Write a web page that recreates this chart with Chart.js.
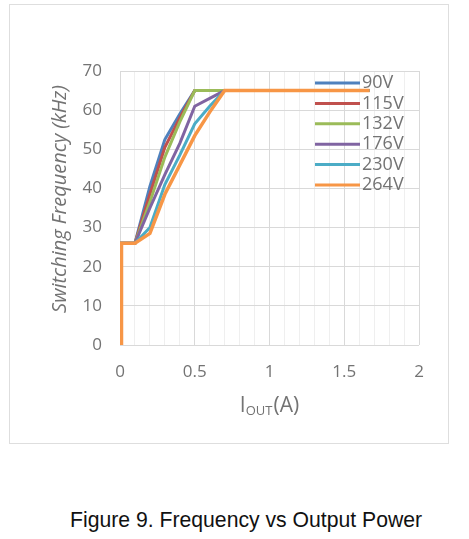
<!DOCTYPE html>
<html>
<head>
<meta charset="utf-8">
<script src="https://cdn.jsdelivr.net/npm/chart.js@4.4.1/dist/chart.umd.min.js"></script>
<style>
    body { margin: 0; background: #fff; }
    #frame { position: absolute; left: 9px; top: 4px; width: 438px; height: 438px; border: 1px solid #dedede; }
    #freqChart { position: absolute; left: 0; top: 0; }
    #caption { position: absolute; left: 70px; top: 508px; font: 21.2px "Liberation Sans", Arial, sans-serif; line-height: 24px; color: #111; white-space: nowrap; }
</style>
</head>
<body>
<div id="frame"><canvas id="freqChart" width="438" height="438"></canvas></div>
<div id="caption">Figure 9. Frequency vs Output Power</div>
<script>
// Output current points (A), shared by every input voltage
const ioutA = [0.01, 0.01, 0.1, 0.2, 0.3, 0.4, 0.5, 0.6, 0.7, 1.67];

// Switching frequency (kHz) per input voltage
const f90V  = [0, 26, 26, 40.5, 52.5, 59, 65, 65, 65, 65];
const f115V = [0, 26, 26, 38.5, 50.5, 58, 65, 65, 65, 65];
const f132V = [0, 26, 26, 36.5, 48, 57, 65, 65, 65, 65];
const f176V = [0, 26, 26, 35, 43.5, 51.5, 61, 63, 65, 65];
const f230V = [0, 26, 26, 30, 41, 48.5, 56.5, 61, 65, 65];
const f264V = [0, 26, 26, 28.5, 38.5, 46, 53.5, 59.5, 65, 65];

const seriesNames = ['90V', '115V', '132V', '176V', '230V', '264V'];
const seriesValues = [f90V, f115V, f132V, f176V, f230V, f264V];
const seriesColors = ['#4F81BD', '#C0504D', '#9BBB59', '#8064A2', '#4BACC6', '#F79646'];

const xTickLabels = ['0', '0.5', '1', '1.5', '2'];
const yTickStep = 10;
const yTitle = 'Switching Frequency (kHz)';

const gray = '#737373';

// legend drawn inside the plot, top right
const insideLegend = {
    id: 'insideLegend',
    afterDatasetsDraw(chart) {
        const ctx = chart.ctx;
        const area = chart.chartArea;
        ctx.save();
        ctx.font = '18px "Open Sans"';
        ctx.textBaseline = 'middle';
        ctx.fillStyle = gray;
        seriesNames.forEach((name, i) => {
            const y = area.top + 12 + i * 20.4;
            ctx.strokeStyle = seriesColors[i];
            ctx.lineWidth = 3;
            ctx.beginPath();
            ctx.moveTo(area.right - 104, y);
            ctx.lineTo(area.right - 59, y);
            ctx.stroke();
            ctx.fillText(name, area.right - 57, y);
        });
        ctx.restore();
    }
};

// axis titles: I_OUT(A) needs a subscript, y title sits a bit above centre
const axisTitles = {
    id: 'axisTitles',
    afterDraw(chart) {
        const ctx = chart.ctx;
        const area = chart.chartArea;
        const big = '21px "Open Sans"';
        const small = '13px "Open Sans"';
        ctx.save();
        ctx.fillStyle = gray;
        ctx.textBaseline = 'alphabetic';
        ctx.font = big;
        const wI = ctx.measureText('I').width;
        const wA = ctx.measureText('(A)').width;
        ctx.font = small;
        const wOut = ctx.measureText('OUT').width;
        let x = (area.left + area.right) / 2 - (wI + wOut + wA + 1) / 2;
        const y = area.bottom + 67;
        ctx.font = big;
        ctx.fillText('I', x, y);
        x += wI;
        ctx.font = small;
        ctx.fillText('OUT', x, y + 3);
        x += wOut + 1;
        ctx.font = big;
        ctx.fillText('(A)', x, y);

        ctx.translate(50, (area.top + area.bottom) / 2 - 9);
        ctx.rotate(-Math.PI / 2);
        ctx.textAlign = 'center';
        ctx.textBaseline = 'middle';
        ctx.font = 'italic 20px "Open Sans"';
        ctx.fillText(yTitle, 0, 0);
        ctx.restore();
    }
};

const datasets = seriesNames.map((name, i) => ({
    label: name,
    data: ioutA.map((x, k) => ({ x: x, y: seriesValues[i][k] })),
    borderColor: seriesColors[i],
    backgroundColor: seriesColors[i],
    borderWidth: i === 5 ? 3.5 : 3,
    pointRadius: 0,
    tension: 0,
    order: seriesNames.length - 1 - i
}));

new Chart(document.getElementById('freqChart'), {
    type: 'line',
    data: { datasets },
    plugins: [insideLegend, axisTitles],
    options: {
        responsive: false,
        animation: false,
        layout: { padding: { left: 0, top: 66, right: 29, bottom: 0 } },
        plugins: {
            legend: { display: false },
            tooltip: { enabled: false }
        },
        scales: {
            x: {
                type: 'linear',
                min: 0,
                max: 2,
                afterFit: s => { s.height = 98; },
                border: { display: false },
                grid: {
                    drawTicks: false,
                    lineWidth: 1,
                    color: c => Math.round(c.tick.value * 10) % 5 === 0 ? '#d9d9d9' : '#efefef'
                },
                ticks: {
                    stepSize: 0.1,
                    autoSkip: false,
                    maxRotation: 0,
                    padding: 17,
                    color: gray,
                    font: { family: 'Open Sans', size: 17 },
                    callback: v => {
                        const s = String(Math.round(v * 10) / 10);
                        return xTickLabels.includes(s) ? s : '';
                    }
                }
            },
            y: {
                min: 0,
                max: 70,
                afterFit: s => { s.width = 110; },
                border: { display: false },
                grid: { drawTicks: false, color: '#d9d9d9' },
                ticks: {
                    stepSize: yTickStep,
                    padding: 18,
                    color: gray,
                    font: { family: 'Open Sans', size: 17 }
                }
            }
        }
    }
});
</script>
</body>
</html>
